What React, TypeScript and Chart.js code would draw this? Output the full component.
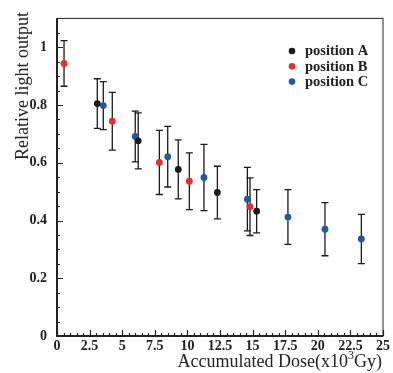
import React, { useEffect, useRef } from "react";
import { Chart, registerables } from "chart.js";
Chart.register(...registerables);

const doseA = [3.09, 6.23, 9.3, 12.3, 15.31];
const lightA = [0.805, 0.676, 0.577, 0.497, 0.432];
const errA = [0.086, 0.097, 0.102, 0.091, 0.075];
const doseB = [0.54, 4.24, 7.85, 10.15, 14.8];
const lightB = [0.944, 0.744, 0.601, 0.536, 0.448];
const errB = [0.079, 0.1, 0.111, 0.098, 0.1];
const doseC = [3.55, 6.0, 8.49, 11.27, 14.6, 17.71, 20.55, 23.34];
const lightC = [0.798, 0.691, 0.621, 0.549, 0.474, 0.412, 0.37, 0.336];
const errC = [0.083, 0.088, 0.105, 0.115, 0.11, 0.095, 0.092, 0.085];
const seriesLabels = ["position A", "position B", "position C"];
const seriesColors = ["#1b1b1b", "#ee2a2a", "#2357a8"];
const xTickValues = [0, 2.5, 5, 7.5, 10, 12.5, 15, 17.5, 20, 22.5, 25];
const yTickValues = [0, 0.2, 0.4, 0.6, 0.8, 1];
const xTitle = "Accumulated Dose(x10";
const xTitleSup = "3";
const xTitleEnd = "Gy)";
const yTitle = "Relative light output";

const SERIF = "'Liberation Serif', 'DejaVu Serif', serif";

const mk = (xs: number[], ys: number[]) => xs.map((x, i) => ({ x, y: ys[i] }));

const customPlugin = {
  id: "rootStyle",
  beforeDatasetsDraw(chart: any) {
    const { ctx } = chart;
    const xs = chart.scales.x;
    const ys = chart.scales.y;
    ctx.save();
    ctx.strokeStyle = "#1a1a1a";
    ctx.lineWidth = 1.3;
    chart.data.datasets.forEach((ds: any) => {
      ds.data.forEach((p: any, i: number) => {
        const e = ds.errors[i];
        const px = xs.getPixelForValue(p.x);
        const top = ys.getPixelForValue(p.y + e);
        const bot = ys.getPixelForValue(p.y - e);
        ctx.beginPath();
        ctx.moveTo(px, top);
        ctx.lineTo(px, bot);
        ctx.moveTo(px - 3.5, top);
        ctx.lineTo(px + 3.5, top);
        ctx.moveTo(px - 3.5, bot);
        ctx.lineTo(px + 3.5, bot);
        ctx.stroke();
      });
    });
    ctx.restore();
  },
  afterDraw(chart: any) {
    const { ctx, chartArea: a } = chart;
    const xs = chart.scales.x;
    const ys = chart.scales.y;
    ctx.save();
    // frame
    ctx.strokeStyle = "#222";
    ctx.lineWidth = 1;
    ctx.strokeRect(a.left, a.top, a.right - a.left, a.bottom - a.top);
    ctx.lineWidth = 2;
    ctx.beginPath();
    ctx.moveTo(a.left, a.top);
    ctx.lineTo(a.left, a.bottom);
    ctx.lineTo(a.right, a.bottom);
    ctx.stroke();
    // ticks
    ctx.lineWidth = 1.2;
    ctx.beginPath();
    for (let i = 0; i <= 50; i++) {
      const v = i * 0.5;
      const px = Math.round(xs.getPixelForValue(v)) + 0.5;
      const len = i % 5 === 0 ? 6 : 3;
      ctx.moveTo(px, a.bottom);
      ctx.lineTo(px, a.bottom - len);
    }
    for (let i = 0; i <= 22; i++) {
      const v = i * 0.05;
      const py = Math.round(ys.getPixelForValue(v)) + 0.5;
      const len = i % 4 === 0 ? 6 : 3;
      ctx.moveTo(a.left, py);
      ctx.lineTo(a.left + len, py);
    }
    ctx.stroke();
    // legend
    ctx.textBaseline = "middle";
    ctx.textAlign = "left";
    ctx.font = `bold 14.5px ${SERIF}`;
    seriesLabels.forEach((lab, i) => {
      const y = 51 + i * 15.3;
      ctx.fillStyle = seriesColors[i];
      ctx.beginPath();
      ctx.arc(292, y, 3.3, 0, Math.PI * 2);
      ctx.fill();
      ctx.fillStyle = "#222";
      ctx.fillText(lab, 305, y + 0.5);
    });
    // x title
    ctx.fillStyle = "#222";
    ctx.textBaseline = "alphabetic";
    const fMain = `18px ${SERIF}`;
    const fSup = `12px ${SERIF}`;
    ctx.font = fMain;
    const w1 = ctx.measureText(xTitle).width;
    const w3 = ctx.measureText(xTitleEnd).width;
    ctx.font = fSup;
    const w2 = ctx.measureText(xTitleSup).width;
    const right = a.right - 1;
    const start = right - (w1 + w2 + w3);
    const base = 367;
    ctx.font = fMain;
    ctx.fillText(xTitle, start, base);
    ctx.font = fSup;
    ctx.fillText(xTitleSup, start + w1, base - 8);
    ctx.font = fMain;
    ctx.fillText(xTitleEnd, start + w1 + w2, base);
    // y title
    ctx.save();
    ctx.translate(28, 12);
    ctx.rotate(-Math.PI / 2);
    ctx.font = `18px ${SERIF}`;
    ctx.textAlign = "right";
    ctx.fillText(yTitle, 0, 0);
    ctx.restore();
    ctx.restore();
  },
};

export default function App() {
  const ref = useRef<HTMLCanvasElement | null>(null);
  useEffect(() => {
    document.body.style.margin = "0";
    const canvas = ref.current!;
    const chart = new Chart(canvas, {
      type: "scatter",
      data: {
        datasets: [
          { label: seriesLabels[0], data: mk(doseA, lightA), errors: errA, backgroundColor: seriesColors[0] } as any,
          { label: seriesLabels[1], data: mk(doseB, lightB), errors: errB, backgroundColor: seriesColors[1] } as any,
          { label: seriesLabels[2], data: mk(doseC, lightC), errors: errC, backgroundColor: seriesColors[2] } as any,
        ].map((d: any) => ({ ...d, pointRadius: 3.4, borderWidth: 0, pointBorderWidth: 0 })),
      },
      options: {
        animation: false,
        responsive: false,
        devicePixelRatio: 1,
        layout: { padding: { top: 10, right: 10, left: 0, bottom: 0 } },
        plugins: { legend: { display: false }, tooltip: { enabled: false } },
        scales: {
          x: {
            type: "linear",
            min: 0,
            max: 25,
            grid: { display: false, drawTicks: false },
            border: { display: false },
            afterBuildTicks: (s: any) => {
              s.ticks = xTickValues.map((v) => ({ value: v }));
            },
            afterFit: (s: any) => {
              s.height = 37;
            },
            ticks: {
              autoSkip: false,
              maxRotation: 0,
              padding: 2,
              color: "#222",
              font: { family: SERIF, size: 14, weight: "bold" },
              callback: (v: any) => String(v),
            },
          },
          y: {
            type: "linear",
            min: 0,
            max: 1.1,
            grid: { display: false, drawTicks: false },
            border: { display: false },
            afterBuildTicks: (s: any) => {
              s.ticks = yTickValues.map((v) => ({ value: v }));
            },
            afterFit: (s: any) => {
              s.width = 57;
            },
            ticks: {
              autoSkip: false,
              padding: 10,
              color: "#222",
              font: { family: SERIF, size: 14, weight: "bold" },
              callback: (v: any) => String(v),
            },
          },
        },
      },
      plugins: [customPlugin],
    } as any);
    return () => chart.destroy();
  }, []);
  return <canvas ref={ref} width={393} height={373} style={{ display: "block", width: 393, height: 373 }} />;
}
